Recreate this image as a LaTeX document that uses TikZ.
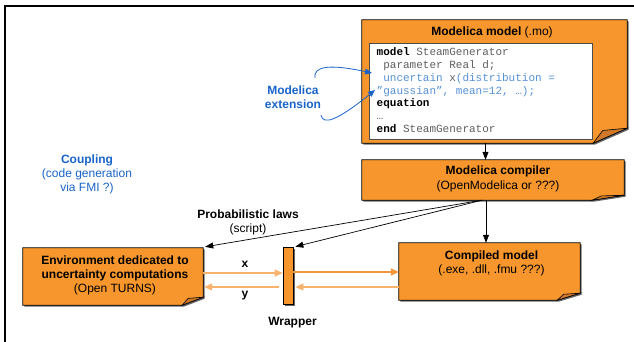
\documentclass[tikz,border=0pt]{standalone}
\usepackage{fontspec}
\setmainfont{Liberation Sans}
\setmonofont{Liberation Mono}
\usetikzlibrary{arrows.meta,calc}
\definecolor{org}{RGB}{246,150,44}
\definecolor{orgdark}{RGB}{206,120,40}
\definecolor{orgline}{RGB}{244,150,60}
\definecolor{orglight}{RGB}{249,178,110}
\definecolor{blu}{RGB}{25,100,200}
\definecolor{codeblue}{RGB}{85,145,215}
\definecolor{codegrey}{RGB}{95,95,95}
\newcommand\foldpath[4]{($(#1.north west)+(#4,#4)$) -- ($(#1.north east)+(#4,#4)$) -- ($(#1.south east)+(#4,-#3+#4)$) -- ($(#1.south east)+(-#2+#4,#4)$) -- ($(#1.south west)+(#4,#4)$) -- cycle}
\newcommand\foldbox[3]{%
  \fill[black!60] \foldpath{#1}{#2}{#3}{1.5};
  \filldraw[fill=org,draw=black,line width=0.7pt] \foldpath{#1}{#2}{#3}{0};
  \filldraw[fill=orgdark,draw=black,line width=0.6pt] ($(#1.south east)+(-#2,0)$) -- ($(#1.south east)+(-0.72*#2,-0.85*#3)$) -- ($(#1.south east)+(0,-#3)$) -- cycle;}
\tikzset{
  boxnode/.style={draw=none,inner sep=0pt},
  txt/.style={inner sep=0pt,font=\fontsize{12}{14}\selectfont,align=center},
  code/.style={inner sep=0pt,anchor=base west,font=\ttfamily\fontsize{11}{12.7}\selectfont,text=codegrey},
  blk/.style={-{Triangle[length=8pt,width=6pt]},line width=0.7pt,black},
  oarr/.style={-{Triangle[length=8pt,width=7pt]},line width=1.4pt},
  barr/.style={-{Triangle[length=7pt,width=6pt]},line width=0.8pt,blu},
}
\begin{document}
\begin{tikzpicture}[x=1pt,y=-1pt]
\useasboundingbox (0,0) rectangle (634,342);
% frame
\draw[line width=2pt] (5,342) -- (5,6.5) -- (634,6.5);

% box nodes
\node[boxnode,minimum width=265pt,minimum height=123pt] (model) at (494.5,81.5) {};
\node[boxnode,minimum width=262pt,minimum height=40pt] (compiler) at (493,180) {};
\node[boxnode,minimum width=181pt,minimum height=57pt] (compiled) at (489.5,271.5) {};
\node[boxnode,minimum width=180pt,minimum height=57pt] (env) at (113,276.5) {};
\foldbox{model}{34}{15}
\foldbox{compiler}{32}{5}
\foldbox{compiled}{23}{7}
\foldbox{env}{21}{8}
\fill[black!60] (284.5,248.5) rectangle (294.5,305.5);
\node[draw=black,fill=org,line width=0.7pt,inner sep=0pt,minimum width=10pt,minimum height=57pt] (wrapper) at (288,275.5) {};

% model content
\node[txt] (mtitle) at (492,32) {\textbf{Modelica model} (.mo)};
\node[draw=black!70,fill=white,line width=0.7pt,inner sep=0pt,minimum width=223pt,minimum height=96pt] (codebox) at (480.5,91) {};
\node[code] (c1) at (376.5,56) {\textcolor{black}{\textbf{model}} SteamGenerator};
\node[code] (c2) at (376.5,68.7) {\phantom{x}parameter Real d;};
\node[code] (c3) at (376.5,81.4) {\phantom{x}\textcolor{codeblue}{uncertain} x\textcolor{codeblue}{(distribution =}};
\node[code,text=codeblue] (c4) at (376.5,94.1) {”gaussian”, mean=12, …);};
\node[code] (c5) at (376.5,106.8) {\textcolor{black}{\textbf{equation}}};
\node[code] (c6) at (376.5,119.5) {…};
\node[code] (c7) at (376.5,132.2) {\textcolor{black}{\textbf{end}} SteamGenerator};

% texts
\node[txt] (comptxt) at (498,178.5) {\textbf{Modelica compiler}\\[1pt](OpenModelica or ???)};
\node[txt] (cmodtxt) at (491.5,263) {\textbf{Compiled model}\\(.exe, .dll, .fmu ???)};
\node[txt] (envtxt) at (115,275) {\textbf{Environment dedicated to}\\\textbf{uncertainty computations}\\(Open TURNS)};
\node[txt] (lx) at (245,264) {\textbf{x}};
\node[txt] (ly) at (245,296) {\textbf{y}};
\node[txt] (lwrap) at (292.5,323) {\textbf{Wrapper}};
\node[txt] (lprob) at (248,222) {\textbf{Probabilistic laws}\\(script)};
\node[txt,text=blu] (lcoup) at (87,174) {\textbf{Coupling}\\(code generation\\via FMI ?)};
\node[txt,text=blu] (lext) at (293,97.5) {\textbf{Modelica}\\\textbf{extension}};

% black arrows
\coordinate (ax1) at (485.5,0);
\coordinate (ax2) at (486,0);
\coordinate (cs) at (482,0);
\draw[blk] (model.south -| ax1) -- (compiler.north -| ax1);
\draw[blk] (compiler.south -| ax2) -- (compiled.north -| ax2);
\draw[blk] (compiler.south -| cs) -- ($(env.north east)+(2,-1)$);
\draw[blk] (compiler.south -| cs) -- ($(wrapper.north east)+(2,0)$);

% orange arrows
\coordinate (yx) at (0,273);
\coordinate (yy) at (0,287);
\coordinate (yx2) at (0,272);
\draw[oarr,orglight] (env.east |- yx) -- (wrapper.west |- yx);
\draw[oarr,orglight] ($(wrapper.west |- yy)+(-4,0)$) -- ($(env.east |- yy)+(1,0)$);
\draw[oarr,orgline] (wrapper.east |- yx2) -- (compiled.west |- yx2);
\draw[oarr,orglight] (compiled.west |- yy) -- ($(wrapper.east |- yy)+(2,0)$);

% blue curved arrows
\coordinate (b1s) at (315,78);
\coordinate (b1e) at (372,73);
\coordinate (b2s) at (321,115);
\coordinate (b2e) at (375,90);
\draw[barr] (b1s) .. controls (313,66) and (330,64) .. (b1e);
\draw[barr] (b2s) .. controls (323,126) and (338,120) .. (b2e);
\end{tikzpicture}
\end{document}
